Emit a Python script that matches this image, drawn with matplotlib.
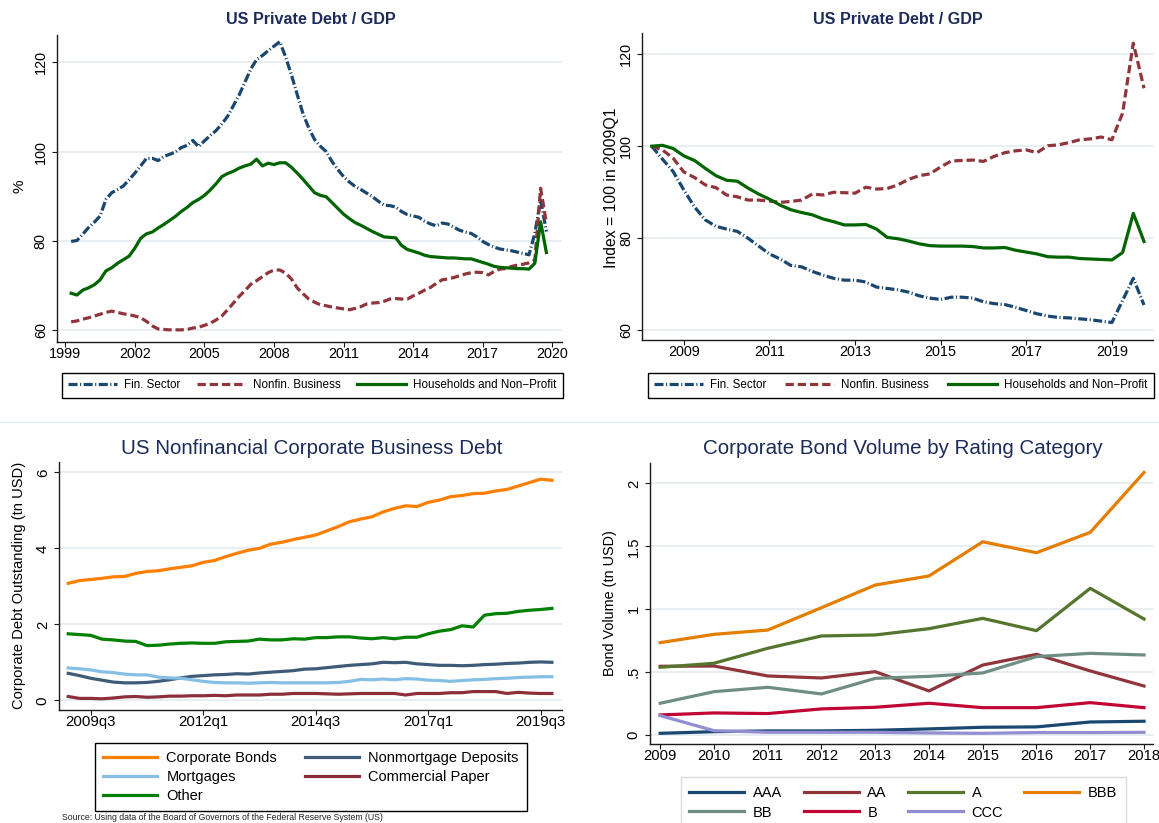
import matplotlib
matplotlib.use('Agg')
import matplotlib.pyplot as plt
import numpy as np
from matplotlib.lines import Line2D

plt.rcParams['font.family'] = ['Liberation Sans', 'DejaVu Sans']
plt.rcParams['lines.scale_dashes'] = False

# ---------------- data ----------------
# Top-left: US private debt / GDP (%), quarterly 1999Q2 .. 2019Q4
tl_start, tl_step = 1999.25, 0.25
tl_fin = [79.9, 80.1, 81.5,
          83.0, 84.2, 85.6, 89.3,
          90.8, 91.5, 92.3, 93.7,
          95.2, 96.8, 98.5, 98.5,
          98.0, 98.9, 99.4, 99.9,
          100.9, 101.4, 102.5, 101.1,
          102.4, 103.6, 104.7, 106.2,
          107.9, 110.3, 112.7, 115.6,
          118.5, 120.6, 121.5, 122.6,
          123.6, 124.6, 121.2, 117.2,
          112.8, 108.5, 105.3, 102.7,
          101.2, 100.0, 97.8, 96.0,
          94.4, 93.2, 92.2, 91.5,
          90.7, 89.9, 88.9, 88.0,
          87.9, 87.6, 86.6, 85.9,
          85.6, 85.3, 84.4, 83.8,
          83.4, 84.0, 83.8, 83.1,
          82.4, 82.0, 81.7, 80.9,
          79.9, 79.2, 78.6, 78.2,
          78.0, 77.8, 77.5, 77.2,
          76.9, 81.7, 89.2, 82.1]
tl_nonfin = [61.9, 62.1, 62.5,
             62.8, 63.2, 63.6, 64.0,
             64.3, 64.0, 63.7, 63.5,
             63.2, 62.8, 62.0, 61.0,
             60.3, 60.2, 60.1, 60.1,
             60.1, 60.2, 60.5, 60.7,
             61.1, 61.6, 62.3, 63.2,
             64.6, 66.1, 67.6, 68.9,
             70.3, 71.1, 72.0, 72.9,
             73.5, 73.5, 72.8, 71.5,
             69.5, 68.2, 67.0, 66.3,
             65.7, 65.5, 65.2, 65.0,
             64.8, 64.6, 64.9, 65.3,
             65.9, 66.1, 66.2, 66.5,
             67.0, 67.1, 67.0, 67.0,
             67.7, 68.3, 69.0, 69.6,
             70.5, 71.3, 71.5, 71.8,
             72.2, 72.6, 72.9, 73.0,
             72.9, 72.4, 73.2, 73.7,
             73.8, 74.3, 74.6, 74.8,
             75.1, 75.7, 91.8, 84.0]
tl_hh = [68.3, 67.9, 69.0,
         69.5, 70.2, 71.3, 73.3,
         74.0, 75.0, 75.8, 76.6,
         78.4, 80.6, 81.6, 82.0,
         82.9, 83.7, 84.6, 85.5,
         86.6, 87.5, 88.6, 89.3,
         90.2, 91.4, 92.8, 94.4,
         95.1, 95.6, 96.3, 96.8,
         97.2, 98.3, 96.8, 97.4,
         97.1, 97.5, 97.5, 96.5,
         95.2, 93.8, 92.3, 90.8,
         90.2, 89.9, 88.6, 87.3,
         86.0, 85.0, 84.1, 83.5,
         82.8, 82.1, 81.5, 80.9,
         80.8, 80.7, 79.0, 78.1,
         77.7, 77.3, 76.8, 76.5,
         76.4, 76.3, 76.2, 76.2,
         76.1, 76.0, 76.0, 75.6,
         75.2, 74.8, 74.3, 74.1,
         74.0, 73.9, 73.8, 73.8,
         73.7, 75.0, 84.3, 77.4]
tl_xticks = [1999, 2002, 2005, 2008, 2011, 2014, 2017, 2020]
tl_yticks = [60, 80, 100, 120]

# Top-right: index = 100, quarterly 2008Q2 .. 2019Q4
tr_start, tr_step = 2008.25, 0.25
tr_fin = [100.0, 97.2, 94.5,
          90.5, 86.8, 84.0, 82.6,
          82.0, 81.5, 80.0, 78.3,
          76.6, 75.5, 74.1, 73.8,
          72.8, 72.0, 71.3, 70.9,
          70.9, 70.5, 69.4, 69.1,
          68.8, 68.3, 67.5, 67.0,
          66.7, 67.2, 67.2, 67.0,
          66.2, 65.8, 65.6, 65.0,
          64.3, 63.6, 63.1, 62.8,
          62.7, 62.5, 62.3, 62.0,
          61.7, 66.5, 71.3, 65.5]
tr_nonfin = [100.0, 99.2, 97.4,
             94.4, 93.2, 91.6, 91.0,
             89.4, 89.0, 88.3, 88.3,
             88.1, 87.8, 88.0, 88.3,
             89.6, 89.4, 90.0, 89.9,
             89.8, 91.1, 90.7, 90.8,
             91.6, 92.8, 93.6, 94.0,
             95.5, 96.8, 96.9, 97.0,
             96.7, 97.8, 98.6, 99.0,
             99.2, 98.6, 100.1, 100.3,
             100.8, 101.4, 101.6, 102.0,
             101.4, 107.2, 122.4, 112.6]
tr_hh = [100.0, 100.2, 99.5,
         97.9, 96.9, 95.2, 93.6,
         92.6, 92.4, 90.9, 89.6,
         88.5, 87.2, 86.2, 85.6,
         85.1, 84.2, 83.6, 82.9,
         82.9, 83.0, 82.0, 80.2,
         79.9, 79.4, 78.8, 78.4,
         78.3, 78.3, 78.3, 78.2,
         77.9, 77.9, 78.0, 77.4,
         77.0, 76.6, 76.0, 75.9,
         75.9, 75.6, 75.5, 75.4,
         75.3, 76.9, 85.4, 79.3]
tr_xticks = [2009, 2011, 2013, 2015, 2017, 2019]
tr_yticks = [60, 80, 100, 120]

# Bottom-left: nonfinancial corporate business debt (tn USD), 2009q1 .. 2019q4
bl_first_year = 2009
bl_bonds = [3.08, 3.15, 3.18, 3.21, 3.25, 3.26, 3.34, 3.39, 3.41, 3.46, 3.50,
            3.54, 3.63, 3.68, 3.78, 3.87, 3.95, 4.00, 4.11, 4.16, 4.23, 4.29,
            4.35, 4.46, 4.57, 4.70, 4.77, 4.83, 4.96, 5.05, 5.12, 5.10, 5.21,
            5.27, 5.36, 5.39, 5.44, 5.45, 5.51, 5.55, 5.64, 5.73, 5.82, 5.79]
bl_nmd = [0.71, 0.65, 0.58, 0.53, 0.48, 0.46, 0.46, 0.47, 0.50, 0.54, 0.59,
          0.63, 0.65, 0.67, 0.68, 0.70, 0.69, 0.72, 0.74, 0.76, 0.78, 0.82,
          0.83, 0.86, 0.89, 0.92, 0.94, 0.96, 1.00, 0.99, 1.00, 0.96, 0.94,
          0.92, 0.92, 0.91, 0.92, 0.94, 0.95, 0.97, 0.98, 1.00, 1.01, 1.00]
bl_mort = [0.85, 0.83, 0.80, 0.75, 0.73, 0.69, 0.67, 0.67, 0.61, 0.59, 0.58,
           0.54, 0.50, 0.47, 0.46, 0.46, 0.45, 0.46, 0.47, 0.46, 0.46, 0.46,
           0.46, 0.46, 0.47, 0.50, 0.55, 0.54, 0.56, 0.54, 0.57, 0.56, 0.53,
           0.52, 0.50, 0.52, 0.54, 0.55, 0.57, 0.58, 0.60, 0.61, 0.62, 0.62]
bl_cp = [0.10, 0.05, 0.05, 0.04, 0.06, 0.09, 0.10, 0.08, 0.09, 0.11, 0.11,
         0.12, 0.12, 0.13, 0.12, 0.14, 0.14, 0.14, 0.16, 0.16, 0.18, 0.18,
         0.18, 0.17, 0.16, 0.17, 0.18, 0.18, 0.18, 0.18, 0.14, 0.18, 0.18,
         0.18, 0.20, 0.20, 0.23, 0.23, 0.23, 0.18, 0.21, 0.19, 0.18, 0.18]
bl_other = [1.75, 1.73, 1.71, 1.61, 1.59, 1.56, 1.55, 1.44, 1.45, 1.48, 1.50,
            1.51, 1.50, 1.50, 1.54, 1.55, 1.56, 1.61, 1.59, 1.59, 1.62, 1.61,
            1.65, 1.65, 1.67, 1.67, 1.64, 1.62, 1.65, 1.62, 1.66, 1.66, 1.75,
            1.82, 1.86, 1.96, 1.93, 2.24, 2.28, 2.29, 2.34, 2.37, 2.39, 2.42]
bl_ticklabels = ['2009q3', '2012q1', '2014q3', '2017q1', '2019q3']
bl_yticks = [0, 2, 4, 6]

# Bottom-right: corporate bond volume by rating (tn USD)
br_years = [2009, 2010, 2011, 2012, 2013, 2014, 2015, 2016, 2017, 2018]
br_AAA = [0.013, 0.026, 0.032, 0.032, 0.037, 0.048, 0.061, 0.064, 0.103, 0.109]
br_AA = [0.546, 0.548, 0.469, 0.453, 0.503, 0.350, 0.556, 0.641, 0.509, 0.389]
br_A = [0.538, 0.570, 0.689, 0.787, 0.795, 0.845, 0.927, 0.829, 1.166, 0.922]
br_BBB = [0.734, 0.800, 0.834, 1.012, 1.192, 1.264, 1.536, 1.449, 1.611, 2.087]
br_BB = [0.252, 0.344, 0.379, 0.326, 0.450, 0.466, 0.493, 0.623, 0.649, 0.636]
br_B = [0.159, 0.175, 0.170, 0.207, 0.220, 0.252, 0.217, 0.217, 0.257, 0.217]
br_CCC = [0.154, 0.034, 0.021, 0.021, 0.021, 0.016, 0.013, 0.019, 0.019, 0.021]
br_yticks = [0, 0.5, 1, 1.5, 2]
br_yticklabels = ['0', '.5', '1', '1.5', '2']

# ---------------- styling ----------------
W, H = 1159, 823
fig = plt.figure(figsize=(W / 100, H / 100), dpi=100)

TITLE_C = '#1c2b59'
AX_C = '#1a1a1a'
GRID_C = '#e2eaee'
NAVY, MAROON, DKGREEN = '#1a476f', '#90353b', '#006400'
FIN_LS = (0, (6.5, 1.8, 0.8, 1.8))
NONFIN_LS = (0, (6.0, 2.8))
LW = 2.3


def px_axes(l, t, r, b):
    return fig.add_axes([l / W, 1 - b / H, (r - l) / W, (b - t) / H])


def style(ax, fs):
    for s in ['top', 'right']:
        ax.spines[s].set_visible(False)
    for s in ['left', 'bottom']:
        ax.spines[s].set_color(AX_C)
        ax.spines[s].set_linewidth(1.0)
    ax.tick_params(direction='out', length=3.6, width=0.8, color=AX_C,
                   labelsize=fs, labelcolor='black')
    ax.tick_params(axis='x', pad=0.3)
    ax.tick_params(axis='y', labelrotation=90, pad=3)
    plt.setp(ax.get_yticklabels(), va='center')
    ax.grid(axis='y', color=GRID_C, lw=1.1)
    ax.grid(axis='x', visible=False)
    ax.set_axisbelow(True)


def ylab(ax, text, xc, yc, box, fs):
    l, t, r, b = box
    ax.set_ylabel(text, fontsize=fs, color='black')
    ax.yaxis.label.set_va('center')
    ax.yaxis.set_label_coords((xc - l) / (r - l), (b - yc) / (b - t))


def legend(ax, handles, labels, x, y, fs, ncol, hl, htp, cs, bp, ls=0.3, ec='black'):
    leg = ax.legend(handles, labels, loc='upper left',
                    bbox_to_anchor=(x / W, 1 - y / H), bbox_transform=fig.transFigure,
                    ncol=ncol, fontsize=fs, handlelength=hl, handletextpad=htp,
                    columnspacing=cs, borderpad=bp, labelspacing=ls, borderaxespad=0,
                    frameon=True, fancybox=False, framealpha=1, edgecolor=ec)
    leg.get_frame().set_linewidth(1.0)
    return leg


# ---- Top-left ----
box = (57, 35, 561.7, 341.7)
ax = px_axes(*box)
x_tl = tl_start + tl_step * np.arange(len(tl_fin))
l1, = ax.plot(x_tl, tl_fin, color=NAVY, lw=LW, ls=FIN_LS)
l2, = ax.plot(x_tl, tl_nonfin, color=MAROON, lw=LW, ls=NONFIN_LS)
l3, = ax.plot(x_tl, tl_hh, color=DKGREEN, lw=LW, solid_joinstyle='round')
ax.set_xlim(1998.64, 2020.41)
ax.set_ylim(57.45, 126.1)
ax.set_xticks(tl_xticks)
ax.set_yticks(tl_yticks)
style(ax, 10.4)
ylab(ax, '%', 19.5, 186.7, box, 11)
fig.text(310.5 / W, 1 - 20 / H, 'US Private Debt / GDP', ha='center', va='center',
         fontsize=11.6, fontweight='bold', color=TITLE_C)
legend(ax, [l1, l2, l3], ['Fin. Sector', 'Nonfin. Business', 'Households and Non\u2212Profit'],
       62, 373, 8.4, 3, 4.2, 0.6, 1.4, 0.55)

# ---- Top-right ----
box = (642.3, 33, 1153, 340)
ax = px_axes(*box)
x_tr = tr_start + tr_step * np.arange(len(tr_fin))
l1, = ax.plot(x_tr, tr_fin, color=NAVY, lw=LW, ls=FIN_LS)
l2, = ax.plot(x_tr, tr_nonfin, color=MAROON, lw=LW, ls=NONFIN_LS)
l3, = ax.plot(x_tr, tr_hh, color=DKGREEN, lw=LW, solid_joinstyle='round')
ax.set_xlim(2008.03, 2019.96)
ax.set_ylim(57.9, 124.6)
ax.set_xticks(tr_xticks)
ax.set_yticks(tr_yticks)
style(ax, 10.4)
ylab(ax, 'Index = 100 in 2009Q1', 611.6, 188, box, 11.3)
fig.text(898 / W, 1 - 20 / H, 'US Private Debt / GDP', ha='center', va='center',
         fontsize=11.6, fontweight='bold', color=TITLE_C)
legend(ax, [l1, l2, l3], ['Fin. Sector', 'Nonfin. Business', 'Households and Non\u2212Profit'],
       648, 373, 8.4, 3, 4.2, 0.6, 1.6, 0.55)

# ---- Bottom-left ----
box = (59, 461.7, 561.7, 710)
ax = px_axes(*box)
q = np.arange(len(bl_bonds))
b1, = ax.plot(q, bl_bonds, color='#ff7f00', lw=LW)
b2, = ax.plot(q, bl_nmd, color='#3e5c78', lw=LW)
b3, = ax.plot(q, bl_mort, color='#86bfe6', lw=LW)
b4, = ax.plot(q, bl_cp, color='#8c2f3a', lw=LW)
b5, = ax.plot(q, bl_other, color='#008000', lw=LW)
tick_pos = [(int(s[:4]) - bl_first_year) * 4 + int(s[-1]) - 1 for s in bl_ticklabels]
ax.set_xticks(tick_pos)
ax.set_xticklabels(bl_ticklabels)
ax.set_yticks(bl_yticks)
ax.set_xlim(-0.82, 43.87)
ax.set_ylim(-0.255, 6.28)
style(ax, 10.8)
ylab(ax, 'Corporate Debt Outstanding (tn USD)', 18.6, 585.8, box, 10.6)
fig.text(312 / W, 1 - 448 / H, 'US Nonfinancial Corporate Business Debt', ha='center',
         va='center', fontsize=14.8, color=TITLE_C)
legend(ax, [b1, b3, b5, b2, b4],
       ['Corporate Bonds', 'Mortgages', 'Other', 'Nonmortgage Deposits', 'Commercial Paper'],
       94.8, 743.3, 10.5, 2, 3.7, 0.66, 1.9, 0.55, ls=0.33)

# ---- Bottom-right ----
box = (650, 463.3, 1152.6, 744)
ax = px_axes(*box)
c_AAA, = ax.plot(br_years, br_AAA, color='#1a476f', lw=LW)
c_AA, = ax.plot(br_years, br_AA, color='#90353b', lw=LW)
c_A, = ax.plot(br_years, br_A, color='#55752f', lw=LW)
c_BBB, = ax.plot(br_years, br_BBB, color='#e37e00', lw=LW)
c_BB, = ax.plot(br_years, br_BB, color='#6e8e84', lw=LW)
c_B, = ax.plot(br_years, br_B, color='#c10534', lw=LW)
c_CCC, = ax.plot(br_years, br_CCC, color='#938dd2', lw=LW)
ax.set_xticks(br_years)
ax.set_yticks(br_yticks)
ax.set_yticklabels(br_yticklabels)
ax.set_xlim(2008.81, 2018.16)
ax.set_ylim(-0.072, 2.16)
style(ax, 10.6)
ylab(ax, 'Bond Volume (tn USD)', 609.6, 603.3, box, 10.4)
fig.text(902.5 / W, 1 - 448 / H, 'Corporate Bond Volume by Rating Category', ha='center',
         va='center', fontsize=14.8, color=TITLE_C)
legend(ax, [c_AAA, c_BB, c_AA, c_B, c_A, c_CCC, c_BBB],
       ['AAA', 'BB', 'AA', 'B', 'A', 'CCC', 'BBB'],
       680.7, 777.3, 10.5, 4, 3.77, 0.6, 1.45, 0.6, ls=0.38, ec='#dcdcdc')

# separators / source
fig.add_artist(Line2D([0, 1], [1 - 421.5 / H] * 2, transform=fig.transFigure,
                      color='#e3eaee', lw=1.0))
fig.text(61.7 / W, 1 - 817.5 / H,
         'Source: Using data of the Board of Governors of the Federal Reserve System (US)',
         fontsize=6.3, va='center', ha='left', color='#222222')

fig.savefig('out.png', dpi=100)
